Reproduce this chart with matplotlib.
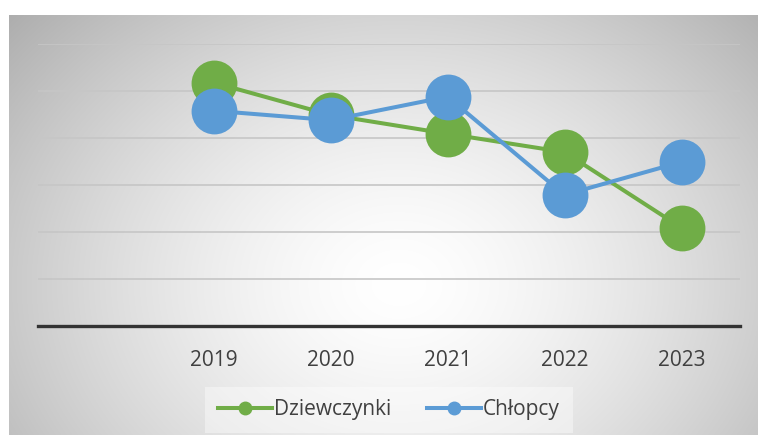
import numpy as np
import matplotlib
matplotlib.use("Agg")
import matplotlib.pyplot as plt
from matplotlib.lines import Line2D

categories = ["", "2019", "2020", "2021", "2022", "2023"]
dziewczynki = [np.nan, 5.18, 4.49, 4.09, 3.70, 2.09]
chlopcy = [np.nan, 4.58, 4.38, 4.88, 2.79, 3.49]
series_names = ["Dziewczynki", "Chłopcy"]

GREEN = "#70ad47"
BLUE = "#5b9bd5"
TEXT = "#404040"
plt.rcParams['font.family'] = ['Open Sans', 'DejaVu Sans']

W, H = 758, 441
fig = plt.figure(figsize=(W / 100, H / 100), dpi=100)
fig.patch.set_facecolor("white")

# gradient background box
bx0, by0, bx1, by1 = 9, 15, 758, 435
bg = fig.add_axes([bx0 / W, 1 - by1 / H, (bx1 - bx0) / W, (by1 - by0) / H])
bw, bh = bx1 - bx0, by1 - by0
yy, xx = np.mgrid[0:bh, 0:bw]
cx, cy = 0.52 * bw, 0.64 * bh
r = np.sqrt(((xx - cx) / (0.6 * bw)) ** 2 + ((yy - cy) / (0.85 * bh)) ** 2)
v = 1 - 0.26 * np.clip(r, 0, 1.2) ** 1.5
img = np.dstack([v, v, v])
bg.imshow(np.clip(img, 0, 1), aspect="auto", interpolation="bilinear")
bg.set_axis_off()

# main axes
ax_l, ax_r, ax_top, ax_bot = 38, 740, 44, 326
ax = fig.add_axes([ax_l / W, 1 - ax_bot / H, (ax_r - ax_l) / W, (ax_bot - ax_top) / H])
ax.patch.set_alpha(0)
x = np.arange(len(categories))
ax.set_xlim(-0.5, len(categories) - 0.5)
ax.set_ylim(0, 6)
ax.set_yticks(range(0, 7))
ax.yaxis.grid(True, color="#c6c6c6", linewidth=1.2)
ax.set_axisbelow(True)
ax.tick_params(axis="y", left=False, labelleft=False)
ax.tick_params(axis="x", bottom=False, labelsize=15, labelcolor=TEXT, pad=14)
ax.set_xticks(x)
ax.set_xticklabels(categories)
for s in ["top", "left", "right"]:
    ax.spines[s].set_visible(False)
ax.spines["bottom"].set_color("#333333")
ax.spines["bottom"].set_linewidth(2.4)
ax.spines["bottom"].set_zorder(1)

ms = 33
ax.plot(x, dziewczynki, color=GREEN, linewidth=2.9, marker="o", markersize=ms,
        markeredgewidth=0, clip_on=False, zorder=3)
ax.plot(x, chlopcy, color=BLUE, linewidth=2.9, marker="o", markersize=ms,
        markeredgewidth=0, clip_on=False, zorder=4)

handles = [Line2D([], [], color=GREEN, linewidth=2.9, marker="o", markersize=9),
           Line2D([], [], color=BLUE, linewidth=2.9, marker="o", markersize=9)]
leg = fig.legend(handles, series_names, loc="center", bbox_to_anchor=(389 / W, 1 - 410 / H),
                 ncol=2, frameon=True, fontsize=15, handlelength=2.6, handletextpad=0.1,
                 columnspacing=1.7, borderpad=0.6, borderaxespad=0)
leg.get_frame().set_facecolor("white")
leg.get_frame().set_alpha(0.4)
leg.get_frame().set_edgecolor("none")
leg.get_frame().set_boxstyle("square", pad=0)
for t in leg.get_texts():
    t.set_color(TEXT)

fig.savefig("out.png", dpi=100)
